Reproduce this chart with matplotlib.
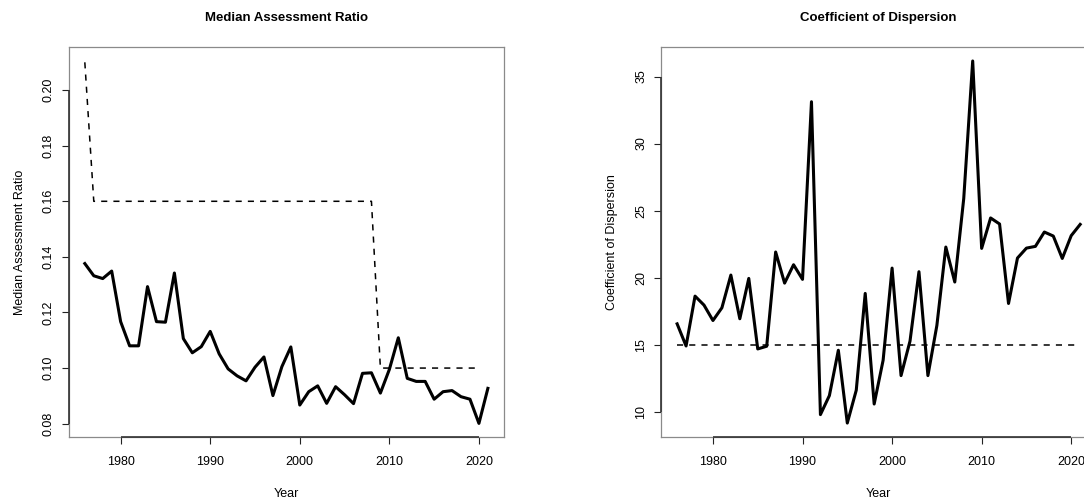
import matplotlib
matplotlib.use("Agg")
import matplotlib.pyplot as plt

plt.rcParams['font.family'] = ['Liberation Sans', 'DejaVu Sans']

years = list(range(1976, 2022))

median_ratio = [
    0.1376, 0.1332, 0.1322, 0.1349, 0.1167, 0.1080, 0.1080, 0.1293, 0.1167, 0.1165,
    0.1342, 0.1106, 0.1055, 0.1077, 0.1132, 0.1051, 0.0997, 0.0972, 0.0954, 0.1003,
    0.1040, 0.0901, 0.1005, 0.1076, 0.0867, 0.0915, 0.0936, 0.0873, 0.0933, 0.0904,
    0.0872, 0.0981, 0.0983, 0.0910, 0.0995, 0.1109, 0.0963, 0.0952, 0.0952, 0.0888,
    0.0915, 0.0919, 0.0897, 0.0888, 0.0801, 0.0927,
]

# legal level of assessment (step changes)
ratio_std_years = [1976, 1977, 2008, 2009, 2020]
ratio_std_values = [0.21, 0.16, 0.16, 0.10, 0.10]

cod = [
    16.55, 14.90, 18.62, 17.95, 16.80, 17.75, 20.19, 16.93, 19.94, 14.68,
    14.88, 21.91, 19.59, 20.96, 19.87, 33.12, 9.78, 11.20, 14.58, 9.15,
    11.60, 18.82, 10.57, 13.84, 20.71, 12.69, 15.26, 20.44, 12.69, 16.43,
    22.28, 19.67, 25.90, 36.16, 22.18, 24.45, 24.00, 18.07, 21.46, 22.20,
    22.33, 23.40, 23.10, 21.43, 23.13, 23.97,
]

cod_std_years = [1976, 2021]
cod_std_values = [15, 15]

ratio_ticks = [0.08, 0.10, 0.12, 0.14, 0.16, 0.18, 0.20]
ratio_ticklabels = ["0.08", "0.10", "0.12", "0.14", "0.16", "0.18", "0.20"]
cod_ticks = [10, 15, 20, 25, 30, 35]
year_ticks = [1980, 1990, 2000, 2010, 2020]

W, H = 1084, 499
fig = plt.figure(figsize=(W / 100, H / 100), dpi=100)


def px_axes(x0, x1, y0, y1):
    return fig.add_axes([x0 / W, 1 - y1 / H, (x1 - x0) / W, (y1 - y0) / H])


def style(ax, xlim, ylim, yticks, yticklabels, title, ylabel):
    ax.set_xlim(*xlim)
    ax.set_ylim(*ylim)
    ax.set_xticks(year_ticks)
    ax.set_xticklabels([str(y) for y in year_ticks])
    ax.set_yticks(yticks)
    ax.set_yticklabels(yticklabels, rotation=90, va='center')
    ax.tick_params(direction='out', length=5, width=0.8, labelsize=9,
                   color='#222222', pad=9)
    ax.tick_params(axis='y', pad=5)
    for s in ax.spines.values():
        s.set_color('#8a8a8a')
        s.set_linewidth(0.9)
    # axis lines spanning first to last tick
    ax.plot([year_ticks[0], year_ticks[-1]], [ylim[0], ylim[0]], color='#333333',
            lw=1.2, clip_on=False, solid_capstyle='butt', zorder=5)
    ax.plot([xlim[0], xlim[0]], [yticks[0], yticks[-1]], color='#333333',
            lw=1.2, clip_on=False, solid_capstyle='butt', zorder=5)
    ax.set_title(title, fontsize=9.5, fontweight='bold', pad=19)
    ax.set_xlabel("Year", fontsize=9, labelpad=14)
    ax.set_ylabel(ylabel, fontsize=9, labelpad=12)


xlim = (1974.2, 2022.8)

ax1 = px_axes(68.7, 504, 47.3, 437)
ax1.plot(years, median_ratio, color='black', lw=2.2, solid_joinstyle='round')
ax1.plot(ratio_std_years, ratio_std_values, color='black', lw=1.1,
         linestyle=(0, (4, 4)))
style(ax1, xlim, (0.0752, 0.2154), ratio_ticks, ratio_ticklabels,
      "Median Assessment Ratio", "Median Assessment Ratio")

ax2 = px_axes(661, 1096.3, 47.3, 437)
ax2.plot(years, cod, color='black', lw=2.2, solid_joinstyle='round')
ax2.plot(cod_std_years, cod_std_values, color='black', lw=1.1,
         linestyle=(0, (4, 4)))
style(ax2, xlim, (8.11, 37.18), cod_ticks, [str(t) for t in cod_ticks],
      "Coefficient of Dispersion", "Coefficient of Dispersion")

fig.savefig("out.png", dpi=100)
